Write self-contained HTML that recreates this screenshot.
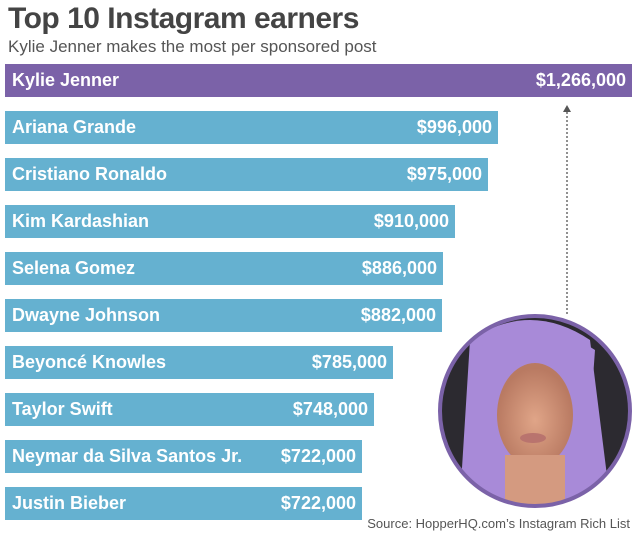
<!DOCTYPE html>
<html><head><meta charset="utf-8"><style>
body{margin:0;width:640px;height:538px;background:#fff;position:relative;overflow:hidden;font-family:"Liberation Sans",sans-serif}
.t{position:absolute;left:8px;top:2px;font-size:30px;font-weight:bold;color:#444;letter-spacing:-0.5px}
.s{position:absolute;left:8px;top:37px;font-size:17px;color:#555}
.b{position:absolute;left:5px;height:33px;background:#65b1d0;color:#fff;font-weight:bold;font-size:18px;line-height:33px}
.b span{position:absolute;left:7px}
.b i{position:absolute;right:6px;font-style:normal}
.src{position:absolute;right:10px;top:516px;font-size:13px;color:#555}
</style></head><body>
<div class="t">Top 10 Instagram earners</div>
<div class="s">Kylie Jenner makes the most per sponsored post</div>
<div class="b" style="top:64px;width:627px;background:#7b62a8"><span>Kylie Jenner</span><i>$1,266,000</i></div>
<div class="b" style="top:111px;width:493px"><span>Ariana Grande</span><i>$996,000</i></div>
<div class="b" style="top:158px;width:483px"><span>Cristiano Ronaldo</span><i>$975,000</i></div>
<div class="b" style="top:205px;width:450px"><span>Kim Kardashian</span><i>$910,000</i></div>
<div class="b" style="top:252px;width:438px"><span>Selena Gomez</span><i>$886,000</i></div>
<div class="b" style="top:299px;width:437px"><span>Dwayne Johnson</span><i>$882,000</i></div>
<div class="b" style="top:346px;width:388px"><span>Beyoncé Knowles</span><i>$785,000</i></div>
<div class="b" style="top:393px;width:369px"><span>Taylor Swift</span><i>$748,000</i></div>
<div class="b" style="top:440px;width:357px"><span>Neymar da Silva Santos Jr.</span><i>$722,000</i></div>
<div class="b" style="top:487px;width:357px"><span>Justin Bieber</span><i>$722,000</i></div>
<svg style="position:absolute;left:0;top:0" width="640" height="538">
<line x1="567" y1="112" x2="567" y2="316" stroke="#555" stroke-width="1.3" stroke-dasharray="2,2"/>
<polygon points="563,112 571,112 567,105" fill="#555"/>
<defs><clipPath id="c"><circle cx="535" cy="411" r="94"/></clipPath>
<radialGradient id="sk" cx="0.5" cy="0.55" r="0.5"><stop offset="0" stop-color="#e0a588"/><stop offset="1" stop-color="#b97a62"/></radialGradient></defs>
<g clip-path="url(#c)">
<rect x="430" y="310" width="210" height="200" fill="#2c2a30"/>
<path d="M470 340 Q530 300 590 340 L610 500 L460 500 Z" fill="#a88ad8"/>
<ellipse cx="535" cy="415" rx="38" ry="52" fill="url(#sk)"/>
<rect x="505" y="455" width="60" height="60" fill="#d49a80"/>
<path d="M475 350 Q535 310 595 350 L590 420 Q570 360 535 352 Q500 360 482 420 Z" fill="#a88ad8"/>
<ellipse cx="533" cy="438" rx="13" ry="5" fill="#b9746e"/>
</g>
<circle cx="535" cy="411" r="95" fill="none" stroke="#7b62a8" stroke-width="4"/>
</svg>
<div class="src">Source: HopperHQ.com’s Instagram Rich List</div>
</body></html>
